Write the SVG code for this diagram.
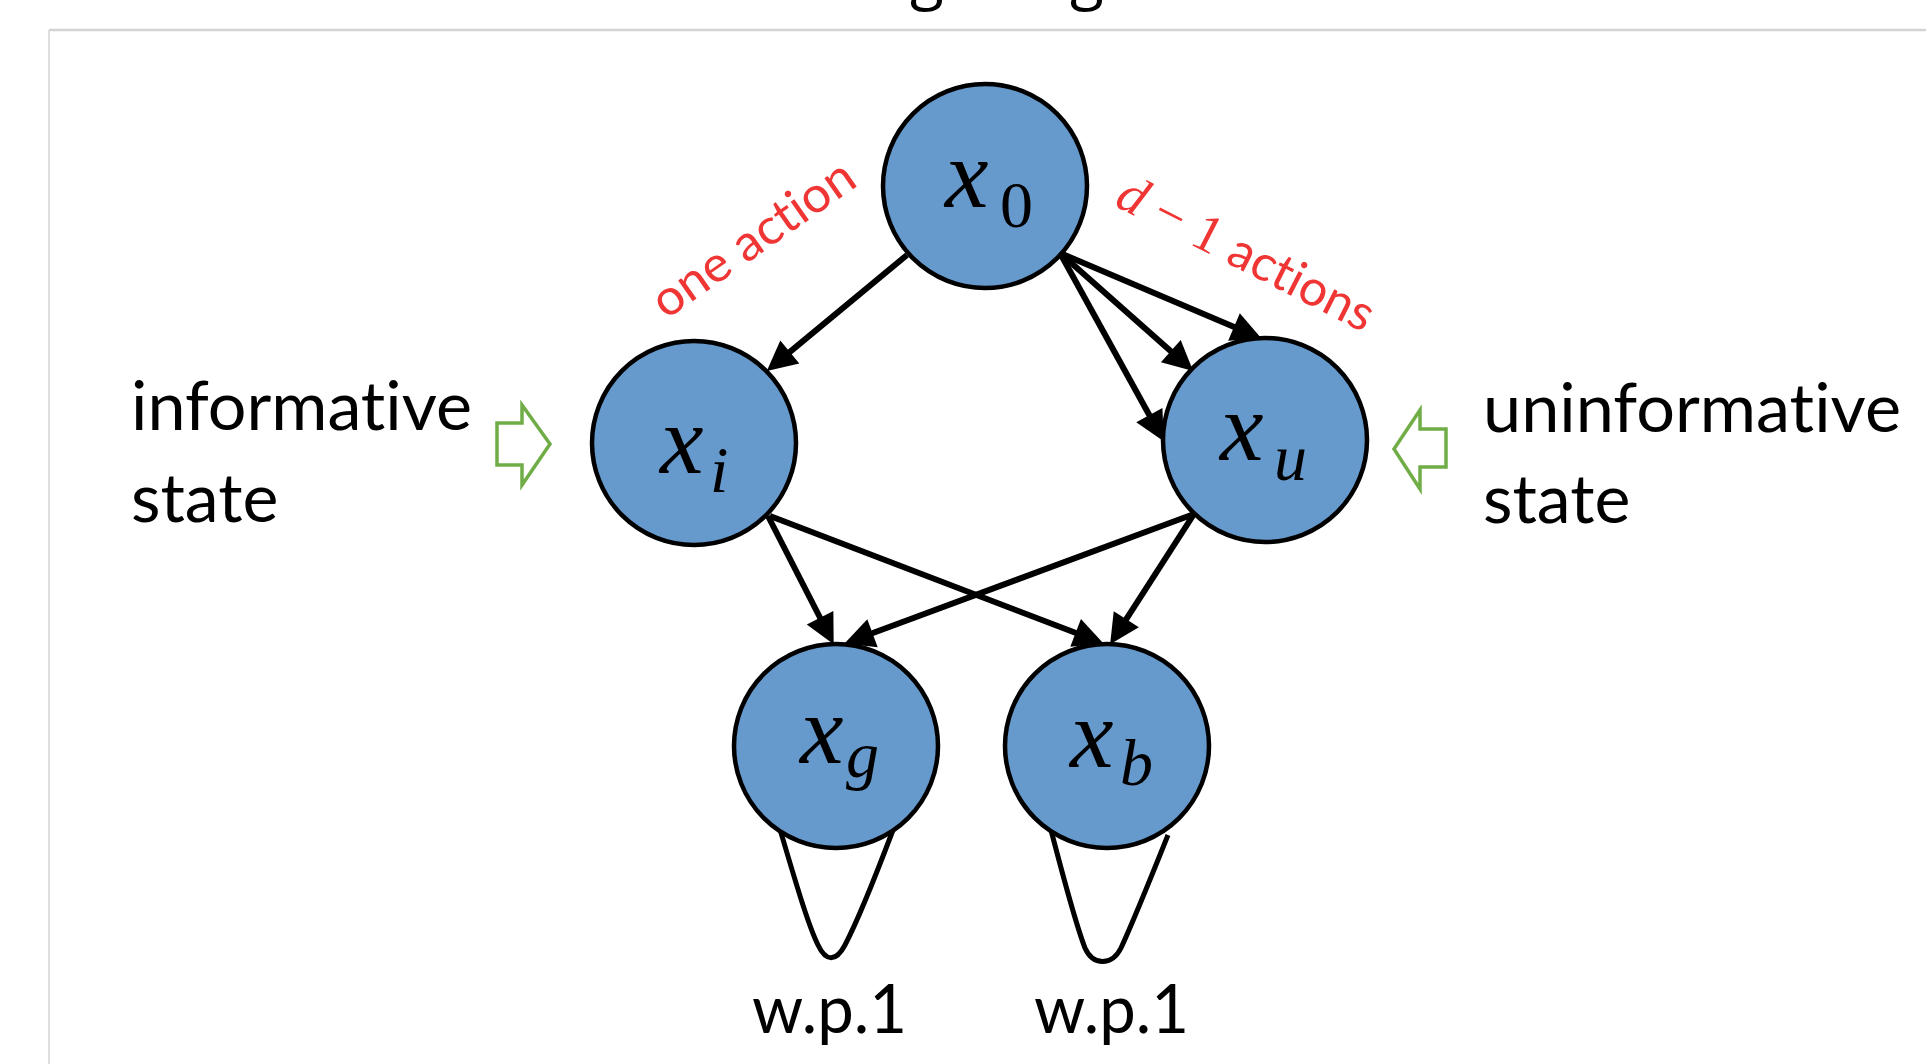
<svg xmlns="http://www.w3.org/2000/svg" width="1926" height="1064" viewBox="0 0 1926 1064">
  <defs>
    <style>
      .node circle { fill: #6699CC; stroke: #000; stroke-width: 4.5; }
      .math { font-family: "Liberation Serif", "DejaVu Serif", serif; fill: #000; }
      .mx { font-style: italic; font-size: 98px; }
      .sub { font-size: 66px; }
      .subi { font-style: italic; }
      .edge { stroke: #000; stroke-width: 6; fill: none; marker-end: url(#arrow); }
      .loop { stroke: #000; stroke-width: 5; fill: none; }
      text { font-variant-ligatures: none; }
      .label { font-family: Lato, "Liberation Sans", sans-serif; font-size: 68px; fill: #000; }
      .red { font-family: Lato, "Liberation Sans", sans-serif; font-size: 50px; fill: #F03535; }
      .redm { font-family: "Liberation Serif", "DejaVu Serif", serif; font-size: 54px; fill: #F03535; }
      .pointer { fill: #fff; stroke: #70AD47; stroke-width: 3.5; stroke-linejoin: miter; }
      .frame { stroke: #D3D3D3; fill: none; }
    </style>
    <marker id="arrow" markerUnits="userSpaceOnUse" markerWidth="32" markerHeight="32" viewBox="0 -15 29 30" refX="5" refY="0" orient="auto">
      <path d="M0,-14 L28,0 L0,14 z" fill="#000"/>
    </marker>
  </defs>

  <rect width="1926" height="1064" fill="#fff"/>

  <!-- title line, cut off above the panel -->
  <text x="910" y="-3" font-family="'Open Sans', sans-serif" font-size="62" fill="#000">g</text>
  <text x="1070" y="-3" font-family="'Open Sans', sans-serif" font-size="62" fill="#000">g</text>

  <!-- panel frame -->
  <line class="frame" x1="49" y1="30" x2="1926" y2="30" stroke-width="2.5"/>
  <line class="frame" x1="49" y1="30" x2="49" y2="1064" stroke-width="1.5" stroke="#E2E2E2"/>

  <!-- connectors -->
  <g id="connectors">
    <line class="edge" x1="907" y1="255" x2="785.7" y2="355.4"/>
    <line class="edge" x1="1060" y1="253" x2="1238.9" y2="329"/>
    <line class="edge" x1="1060" y1="253" x2="1174.8" y2="354.7"/>
    <line class="edge" x1="1060" y1="253" x2="1151.9" y2="419.8"/>
    <line class="edge" x1="768" y1="516" x2="822.5" y2="622.5"/>
    <line class="edge" x1="770" y1="516" x2="1080.6" y2="634.8"/>
    <line class="edge" x1="1194" y1="514" x2="867.5" y2="635"/>
    <line class="edge" x1="1194" y1="514" x2="1123.4" y2="623.7"/>
    <path class="loop" d="M779,826 C795,880 808,925 818,945 C826,962 836,962 845,945 C858,920 876,875 893,830"/>
    <path class="loop" d="M1051,830 C1064,880 1076,925 1085,948 C1093,966 1112,966 1121,948 C1133,922 1152,875 1168,835"/>
  </g>

  <!-- states -->
  <g id="node-x0" class="node">
    <circle cx="985" cy="186" r="102"/>
    <text class="math" x="945" y="207"><tspan class="mx">x</tspan><tspan class="sub" x="1000" y="227">0</tspan></text>
  </g>
  <g id="node-xi" class="node">
    <circle cx="694" cy="443" r="102"/>
    <text class="math" x="660" y="473"><tspan class="mx">x</tspan><tspan class="sub subi" x="710" y="492">i</tspan></text>
  </g>
  <g id="node-xu" class="node">
    <circle cx="1265" cy="440" r="102"/>
    <text class="math" x="1220" y="460"><tspan class="mx">x</tspan><tspan class="sub subi" x="1274" y="480">u</tspan></text>
  </g>
  <g id="node-xg" class="node">
    <circle cx="836" cy="746" r="102"/>
    <text class="math" x="800" y="763"><tspan class="mx">x</tspan><tspan class="sub subi" x="846" y="777">g</tspan></text>
  </g>
  <g id="node-xb" class="node">
    <circle cx="1107" cy="746" r="102"/>
    <text class="math" x="1070" y="767"><tspan class="mx">x</tspan><tspan class="sub subi" x="1120" y="785">b</tspan></text>
  </g>

  <!-- action labels -->
  <g id="label-one-action">
    <text class="red" transform="translate(666,320) rotate(-35)" textLength="236" lengthAdjust="spacingAndGlyphs">one action</text>
  </g>
  <g id="label-d-actions">
    <text transform="translate(1113,205) rotate(27)"><tspan class="redm" font-style="italic">d</tspan><tspan class="redm"> − 1 </tspan><tspan class="red">actions</tspan></text>
  </g>

  <!-- side annotations -->
  <g id="note-informative">
    <text class="label" x="131" y="430" textLength="341" lengthAdjust="spacingAndGlyphs">informative</text>
    <text class="label" x="131" y="522">state</text>
    <polygon class="pointer" points="497,423 522,423 522,405 550,444 522,485 522,465 497,465"/>
  </g>
  <g id="note-uninformative">
    <text class="label" x="1483" y="432" textLength="418" lengthAdjust="spacingAndGlyphs">uninformative</text>
    <text class="label" x="1483" y="523">state</text>
    <polygon class="pointer" points="1446,429 1420,429 1420,410 1394,449 1420,489 1420,467 1446,467"/>
  </g>

  <!-- self-loop probabilities -->
  <g id="note-wp1">
    <text class="label" x="752" y="1033" textLength="155" lengthAdjust="spacingAndGlyphs">w.p.1</text>
    <text class="label" x="1034" y="1033" textLength="155" lengthAdjust="spacingAndGlyphs">w.p.1</text>
  </g>
</svg>
